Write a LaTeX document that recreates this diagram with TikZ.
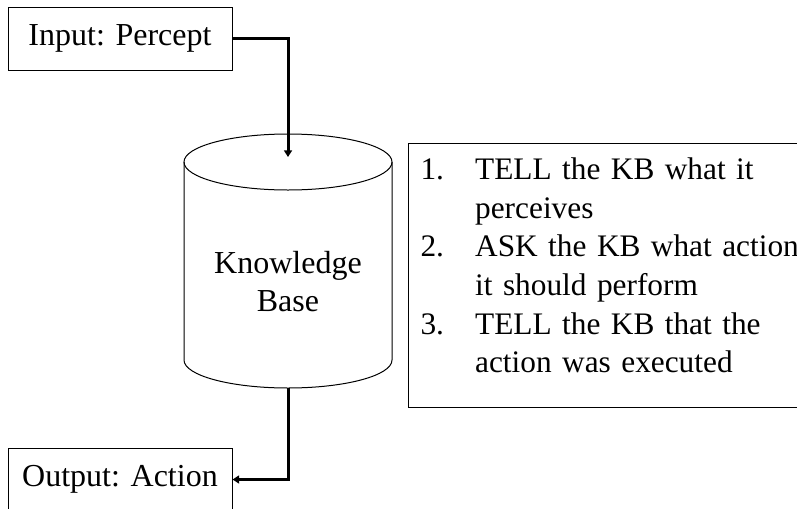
\documentclass[tikz,border=0pt]{standalone}
\usepackage{fontspec}
\setmainfont{Liberation Serif}
\usetikzlibrary{arrows.meta}
\begin{document}
\begin{tikzpicture}[x=0.75pt,y=-0.75pt,
        box/.style={draw,line width=0.75pt,minimum width=168pt,minimum height=47.25pt,
            inner sep=0pt,font=\fontsize{24}{28.5}\selectfont},
        flow/.style={line width=2.25pt,-{Triangle[length=5pt,width=6pt]}}]
            \clip (0,0) rectangle (797,508);
            \node[box] (input) at (120,38.5) {Input: Percept};
            \node[box] (output) at (120,479.5) {Output: Action};
            % the knowledge base drum
            \draw[line width=0.75pt] (288,162) ellipse [x radius=104,y radius=28];
            \draw[line width=0.75pt] (184,162) -- (184,360)
                arc [start angle=180,end angle=0,x radius=104,y radius=28] -- (392,162);
            \coordinate (kbtop) at (288,157);
            \coordinate (kbbot) at (288,388);
            \node[align=center,font=\fontsize{24}{28.5}\selectfont] (kb) at (288,282) {Knowledge\\Base};
            \node[draw,line width=0.75pt,anchor=north west,inner xsep=9pt,inner ysep=12pt,
                text width=300pt,font=\fontsize{23.5}{29}\selectfont] (steps) at (408,143)
                {\raisebox{5.25pt}[\height][\depth]{\begin{tabular}{@{}p{41pt}@{}l@{}}
                    1. & TELL the KB what it\\
                       & perceives\\
                    2. & ASK the KB what action\\
                       & it should perform\\
                    3. & TELL the KB that the\\
                       & action was executed
                \end{tabular}}};
            \draw[flow] (input.east) -| (kbtop);
            \draw[flow] (kbbot) |- (output.east);
        \end{tikzpicture}
\end{document}
